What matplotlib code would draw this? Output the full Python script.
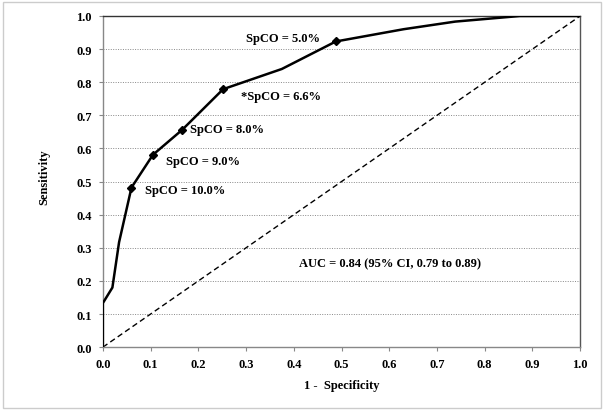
import matplotlib
matplotlib.use("Agg")
import matplotlib.pyplot as plt
from matplotlib.patches import Rectangle

# ROC curve
fpr = [0.0, 0.0, 0.020, 0.034, 0.060, 0.105, 0.166, 0.252, 0.375, 0.488, 0.630, 0.738, 0.874, 1.0]
tpr = [0.0, 0.133, 0.180, 0.317, 0.482, 0.581, 0.656, 0.779, 0.840, 0.923, 0.960, 0.983, 1.0, 1.0]

# labelled cut-off points
cut_fpr = [0.060, 0.105, 0.166, 0.252, 0.488]
cut_tpr = [0.482, 0.581, 0.656, 0.779, 0.923]
cut_labels = ["SpCO = 10.0%", "SpCO = 9.0%", "SpCO = 8.0%", "*SpCO = 6.6%", "SpCO = 5.0%"]
label_x = [0.088, 0.132, 0.182, 0.290, 0.300]
label_y = [0.474, 0.562, 0.660, 0.758, 0.935]

ticks = [i / 10 for i in range(11)]
tick_labels = [f"{t:.1f}" for t in ticks]

INK = "#000000"
SPINE = "#888888"
GRID = "#888888"
FS = 9

plt.rcParams["font.family"] = ["Liberation Serif", "DejaVu Serif"]
plt.rcParams["font.weight"] = "bold"

fig = plt.figure(figsize=(6.05, 4.14), dpi=100, facecolor="white")
ax = fig.add_axes([0.170, 0.159, 0.789, 0.800])

for t in ticks[1:]:
    ax.axhline(t, color=GRID, linestyle=(0, (1, 1.5)), linewidth=0.7, zorder=0)

ax.plot([0, 1], [0, 1], color=INK, linestyle=(0, (4, 2.5)), linewidth=1.0, zorder=2)
ax.plot(fpr, tpr, color=INK, linewidth=1.8, zorder=3)
ax.plot(cut_fpr, cut_tpr, linestyle="none", marker="D", markersize=4.5, color=INK, zorder=4)

for x, y, s in zip(label_x, label_y, cut_labels):
    ax.text(x, y, s, fontsize=FS, fontweight="bold", ha="left", va="center", color=INK)
ax.text(0.411, 0.254, "AUC = 0.84 (95% CI, 0.79 to 0.89)", fontsize=FS,
        fontweight="bold", ha="left", va="center", color=INK)

ax.set_xlim(0, 1)
ax.set_ylim(0, 1)
ax.set_xticks(ticks, tick_labels)
ax.set_yticks(ticks, tick_labels)
ax.tick_params(axis="both", labelsize=FS, colors=SPINE, labelcolor=INK, length=3, width=0.8)
ax.tick_params(axis="y", pad=5)
ax.tick_params(axis="x", pad=5)
for lab in ax.get_xticklabels() + ax.get_yticklabels():
    lab.set_fontweight("bold")
ax.set_xlabel("1 -  Specificity", fontsize=FS, fontweight="bold", labelpad=6)
ax.set_ylabel("Sensitivity", fontsize=FS, fontweight="bold", labelpad=18.5)
ax.yaxis.label.set_y(0.517)

ax.spines["left"].set_color(SPINE)
ax.spines["bottom"].set_color(SPINE)
ax.spines["top"].set_color("#333333")
ax.spines["right"].set_color("#555555")
for sp in ax.spines.values():
    sp.set_linewidth(1.0)

fig.patches.append(Rectangle((0.005, 0.012), 0.988, 0.98, transform=fig.transFigure,
                             fill=False, edgecolor="#cccccc", linewidth=1.0))

fig.savefig("out.png", dpi=100, facecolor="white")
